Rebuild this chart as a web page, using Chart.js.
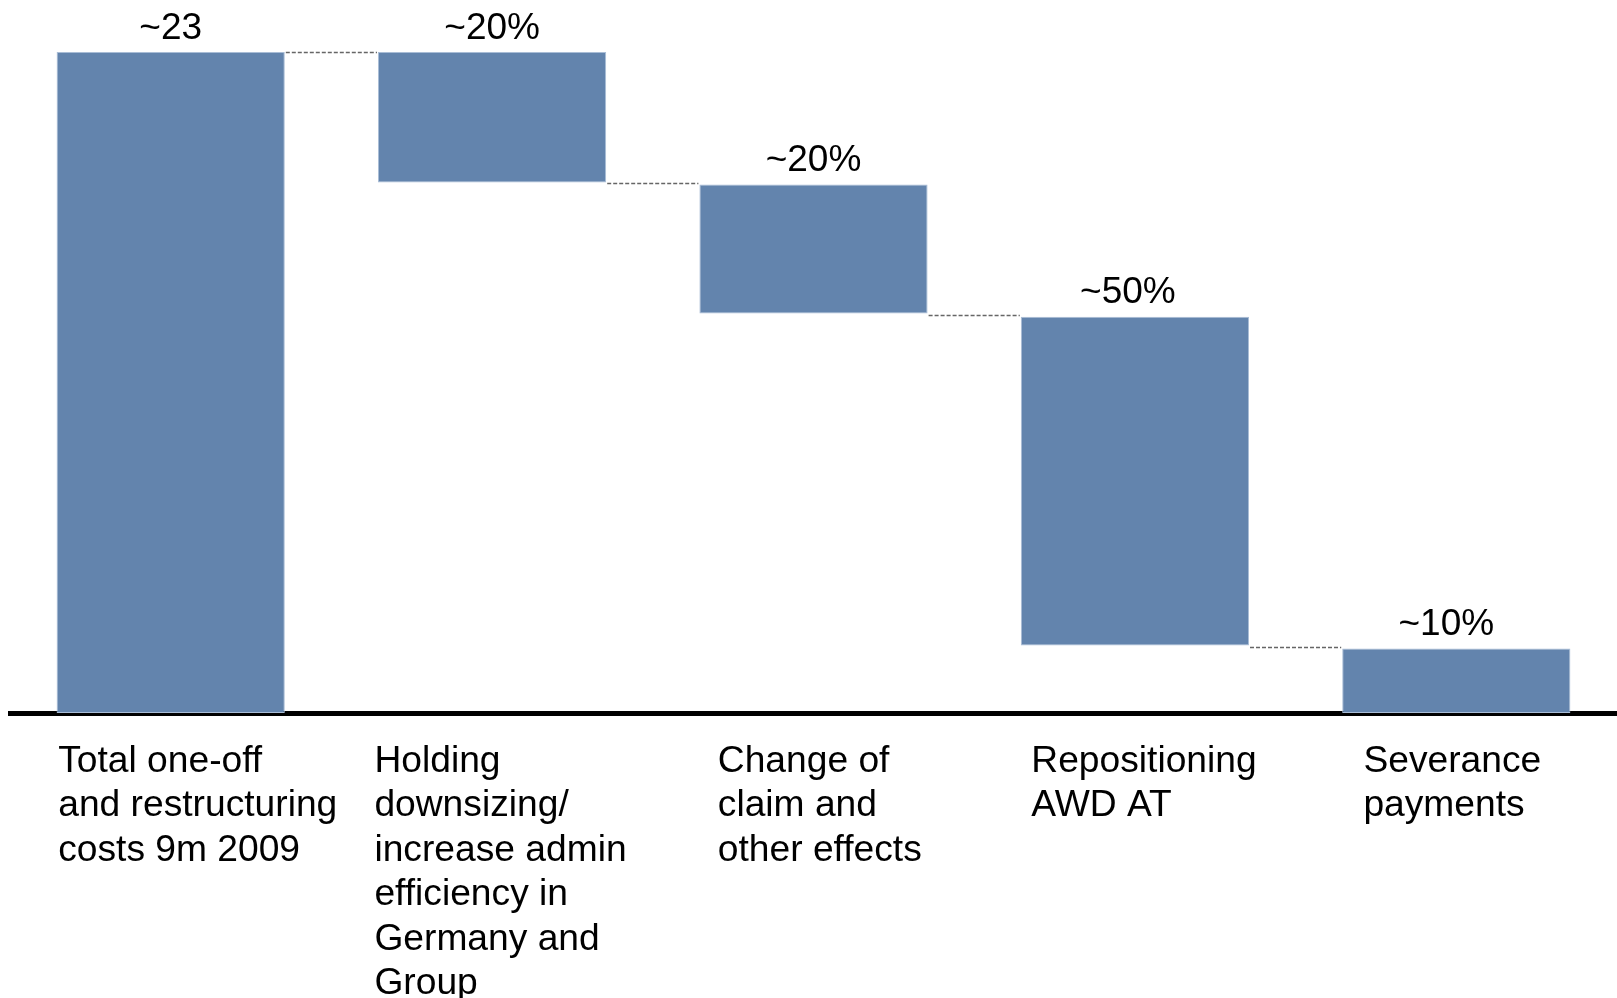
<!DOCTYPE html>
<html>
<head>
<meta charset="utf-8">
<script src="https://cdn.jsdelivr.net/npm/chart.js@4"></script>
<style>
  html, body { margin: 0; padding: 0; background: #fff; }
  #wrap { width: 1617px; height: 998px; position: relative; }
</style>
</head>
<body>
<div id="wrap"><canvas id="chart"></canvas></div>
<script>
// categories (one line per array entry)
const categories = [
  ['Total one-off', 'and restructuring', 'costs 9m 2009'],
  ['Holding', 'downsizing/', 'increase admin', 'efficiency in', 'Germany and', 'Group'],
  ['Change of', 'claim and', 'other effects'],
  ['Repositioning', 'AWD AT'],
  ['Severance', 'payments']
];

// floating bar ranges (EUR m)
const barStart = [0, 18.46, 13.90, 2.35, 0];
const barEnd   = [23, 23, 18.39, 13.79, 2.24];

// labels above the bars
const valueLabels = ['~23', '~20%', '~20%', '~50%', '~10%'];

const FONT = '"Liberation Sans", Arial, Helvetica, sans-serif';
const barColor = '#6384ad';

// per-category left edge of the text block, relative to the bar centre
const labelNudge = [-112.5, -117.7, -95.7, -103.6, -92.9];
// small horizontal shift of the value labels
const valueNudge = [0, 0, 0, -7, -10];

const waterfallExtras = {
  id: 'waterfallExtras',
  afterDatasetsDraw(chart) {
    const ctx = chart.ctx;
    const meta = chart.getDatasetMeta(0);
    const x = chart.scales.x;
    const y = chart.scales.y;

    // dashed connectors between neighbouring bars
    ctx.save();
    ctx.strokeStyle = '#666';
    ctx.lineWidth = 1.3;
    ctx.setLineDash([4, 2]);
    for (let i = 0; i < meta.data.length - 1; i++) {
      const a = meta.data[i], b = meta.data[i + 1];
      const level = i === 0 ? barEnd[0] : (barStart[i] + barEnd[i + 1]) / 2;
      const yy = Math.round(y.getPixelForValue(level)) + 0.5;
      ctx.beginPath();
      ctx.moveTo(a.x + a.width / 2 + 1, yy);
      ctx.lineTo(b.x - b.width / 2 - 1, yy);
      ctx.stroke();
    }
    ctx.restore();

    // value labels
    ctx.save();
    ctx.fillStyle = '#000';
    ctx.font = '37px ' + FONT;
    ctx.textAlign = 'center';
    ctx.textBaseline = 'alphabetic';
    meta.data.forEach((bar, i) => {
      ctx.fillText(valueLabels[i], bar.x + valueNudge[i], y.getPixelForValue(barEnd[i]) - 13.5);
    });
    ctx.restore();

    // category labels below the axis
    ctx.save();
    ctx.fillStyle = '#000';
    ctx.font = '37.2px ' + FONT;
    ctx.textAlign = 'left';
    ctx.textBaseline = 'alphabetic';
    categories.forEach((lines, i) => {
      const left = x.getPixelForValue(i) + labelNudge[i];
      lines.forEach((line, j) => {
        ctx.fillText(line, left, x.top + 58.7 + j * 44.5);
      });
    });
    ctx.restore();
  }
};

new Chart(document.getElementById('chart'), {
  type: 'bar',
  data: {
    labels: categories,
    datasets: [{
      data: barStart.map((s, i) => [s, barEnd[i]]),
      backgroundColor: barColor,
      borderColor: '#a9bdd6',
      borderWidth: 1,
      borderSkipped: false,
      categoryPercentage: 1,
      barPercentage: 0.71
    }]
  },
  options: {
    responsive: true,
    maintainAspectRatio: false,
    animation: false,
    layout: { padding: { top: 52, left: 10, right: 0, bottom: 0 } },
    plugins: {
      legend: { display: false },
      tooltip: { enabled: false }
    },
    scales: {
      x: {
        grid: { display: false, drawTicks: false },
        ticks: { display: false },
        border: { display: true, color: '#000', width: 5 },
        afterFit(scale) { scale.height = 285; }
      },
      y: {
        display: false,
        min: 0,
        max: 23
      }
    }
  },
  plugins: [waterfallExtras]
});
</script>
</body>
</html>
